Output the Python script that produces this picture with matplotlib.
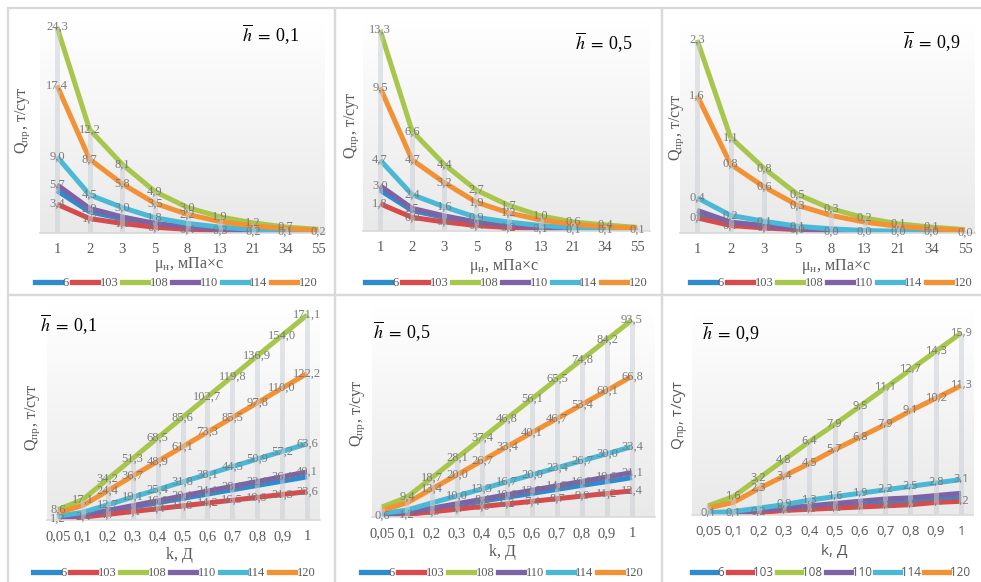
import numpy as np
import matplotlib
matplotlib.use("Agg")
import matplotlib.pyplot as plt
from matplotlib.patches import Rectangle
from matplotlib.lines import Line2D
from matplotlib.colors import LinearSegmentedColormap

plt.rcParams['mathtext.fontset'] = 'stix'

# ---------------- data ----------------
series_names = ["6", "103", "108", "110", "114", "120"]
mu_labels = ["1", "2", "3", "5", "8", "13", "21", "34", "55"]
k_labels = ["0,05", "0,1", "0,2", "0,3", "0,4", "0,5", "0,6", "0,7", "0,8", "0,9", "1"]

# Q vs viscosity, h = 0.1
mu_h01 = {
    "6":   [5.0, 2.5, 1.67, 1.0, 0.63, 0.38, 0.24, 0.15, 0.09],
    "103": [3.4, 1.7, 1.13, 0.68, 0.43, 0.26, 0.16, 0.10, 0.06],
    "108": [24.3, 12.2, 8.1, 4.9, 3.0, 1.9, 1.2, 0.7, 0.44],
    "110": [5.7, 2.9, 1.9, 1.14, 0.71, 0.44, 0.27, 0.17, 0.10],
    "114": [9.0, 4.5, 3.0, 1.8, 1.13, 0.69, 0.43, 0.26, 0.16],
    "120": [17.4, 8.7, 5.8, 3.5, 2.2, 1.34, 0.83, 0.51, 0.32],
}
# Q vs viscosity, h = 0.5
mu_h05 = {
    "6":   [2.7, 1.35, 0.9, 0.54, 0.34, 0.21, 0.13, 0.08, 0.05],
    "103": [1.8, 0.9, 0.6, 0.36, 0.23, 0.14, 0.09, 0.06, 0.03],
    "108": [13.3, 6.6, 4.4, 2.7, 1.7, 1.0, 0.6, 0.4, 0.24],
    "110": [3.0, 1.5, 1.0, 0.6, 0.38, 0.23, 0.14, 0.09, 0.05],
    "114": [4.7, 2.4, 1.6, 0.9, 0.59, 0.36, 0.22, 0.14, 0.09],
    "120": [9.5, 4.7, 3.2, 1.9, 1.2, 0.73, 0.45, 0.28, 0.17],
}
# Q vs viscosity, h = 0.9
mu_h09 = {
    "6":   [0.23, 0.11, 0.08, 0.05, 0.03, 0.02, 0.01, 0.01, 0.00],
    "103": [0.18, 0.09, 0.06, 0.04, 0.02, 0.01, 0.01, 0.01, 0.00],
    "108": [2.3, 1.14, 0.77, 0.46, 0.29, 0.18, 0.11, 0.07, 0.04],
    "110": [0.27, 0.13, 0.09, 0.05, 0.03, 0.02, 0.01, 0.01, 0.00],
    "114": [0.42, 0.21, 0.14, 0.08, 0.05, 0.03, 0.02, 0.01, 0.01],
    "120": [1.64, 0.82, 0.55, 0.33, 0.21, 0.13, 0.08, 0.05, 0.03],
}
# Q vs permeability, h = 0.1
k_h01 = {
    "6":   [1.8, 3.6, 7.2, 10.8, 14.4, 18.0, 21.6, 25.2, 28.8, 32.4, 36.0],
    "103": [1.2, 2.4, 4.7, 7.1, 9.4, 11.8, 14.2, 16.5, 18.9, 21.3, 23.6],
    "108": [8.6, 17.1, 34.2, 51.3, 68.5, 85.6, 102.7, 119.8, 136.9, 154.0, 171.1],
    "110": [2.0, 4.0, 8.0, 12.0, 16.0, 20.1, 24.1, 28.1, 32.1, 36.1, 40.1],
    "114": [3.2, 6.4, 12.7, 19.1, 25.4, 31.8, 38.1, 44.5, 50.9, 57.2, 63.6],
    "120": [6.1, 12.2, 24.4, 36.7, 48.9, 61.1, 73.3, 85.5, 97.8, 110.0, 122.2],
}
# Q vs permeability, h = 0.5
k_h05 = {
    "6":   [0.9, 1.9, 3.7, 5.6, 7.5, 9.4, 11.2, 13.1, 15.0, 16.8, 18.7],
    "103": [0.6, 1.2, 2.5, 3.7, 5.0, 6.2, 7.4, 8.7, 9.9, 11.2, 12.4],
    "108": [4.7, 9.4, 18.7, 28.1, 37.4, 46.8, 56.1, 65.5, 74.8, 84.2, 93.5],
    "110": [1.1, 2.1, 4.2, 6.3, 8.4, 10.6, 12.7, 14.8, 16.9, 19.0, 21.1],
    "114": [1.7, 3.3, 6.7, 10.0, 13.3, 16.7, 20.0, 23.4, 26.7, 30.0, 33.4],
    "120": [3.3, 6.7, 13.4, 20.0, 26.7, 33.4, 40.1, 46.7, 53.4, 60.1, 66.8],
}
# Q vs permeability, h = 0.9
k_h09 = {
    "6":   [0.1, 0.2, 0.3, 0.5, 0.6, 0.8, 1.0, 1.1, 1.3, 1.4, 1.6],
    "103": [0.1, 0.1, 0.2, 0.4, 0.5, 0.6, 0.7, 0.8, 0.9, 1.1, 1.2],
    "108": [0.8, 1.6, 3.2, 4.8, 6.4, 7.9, 9.5, 11.1, 12.7, 14.3, 15.9],
    "110": [0.1, 0.2, 0.4, 0.6, 0.8, 1.0, 1.2, 1.4, 1.5, 1.7, 1.9],
    "114": [0.2, 0.3, 0.6, 0.9, 1.3, 1.6, 1.9, 2.2, 2.5, 2.8, 3.1],
    "120": [0.6, 1.1, 2.3, 3.4, 4.5, 5.7, 6.8, 7.9, 9.1, 10.2, 11.3],
}

# which points carry a data label (series -> point indices)
lab_mu_h01 = {"108": range(0, 8), "120": range(0, 5), "114": [0, 1, 2, 3, 8],
              "110": [0, 1], "103": range(0, 8)}
lab_mu_h05 = {"108": range(0, 8), "120": range(0, 5), "114": [0, 1, 2, 3, 8],
              "110": [0, 1], "103": range(0, 8)}
lab_mu_h09 = {"108": range(0, 8), "120": range(0, 4), "114": range(0, 4),
              "103": range(0, 9)}
lab_k_h01 = {"108": range(0, 11), "120": range(2, 11), "114": range(2, 11),
             "110": range(4, 11), "103": range(0, 11)}
lab_k_h05 = {"108": range(1, 11), "120": range(2, 11), "114": range(3, 11),
             "110": range(4, 11), "103": range(0, 11)}
lab_k_h09 = {"108": range(1, 11), "120": range(2, 11), "114": range(3, 11),
             "103": range(0, 11)}

h_values = ["0,1", "0,5", "0,9", "0,1", "0,5", "0,9"]

colors = {"6": "#2E8BCF", "103": "#D94A4C", "108": "#A8C64B",
          "110": "#7D62A6", "114": "#4BB8D6", "120": "#F39135"}

# ---------------- layout ----------------
W, H = 981, 582
fig = plt.figure(figsize=(W / 100, H / 100), dpi=100)
fig.patch.set_facecolor("white")

SERIF = ["Liberation Serif", "DejaVu Serif"]
SANS = ["Open Sans", "DejaVu Sans"]
GRAY = "#595959"
LGRAY = "#7a7a7a"

panels = [
    dict(data=mu_h01, labs=lab_mu_h01, cats=mu_labels, box=(40, 325, 21.1, 233), ylim=25,
         xlim=(-0.52, 8.21), xlabel="μ$_\\mathregular{н}$, мПа×с", xl=(189, 265),
         yl=(23, 120), h=(242, 35), leg=(176, 283), fam=SERIF),
    dict(data=mu_h05, labs=lab_mu_h05, cats=mu_labels, box=(363, 650, 19.4, 231), ylim=14,
         xlim=(-0.53, 8.4), xlabel="μ$_\\mathregular{н}$, мПа×с", xl=(504, 267),
         yl=(352, 125), h=(575, 43), leg=(506, 283), fam=SERIF),
    dict(data=mu_h09, labs=lab_mu_h09, cats=mu_labels, box=(680, 975, 23.2, 233), ylim=2.5,
         xlim=(-0.51, 8.3), xlabel="μ$_\\mathregular{н}$, мПа×с", xl=(836, 267),
         yl=(677, 127), h=(903, 42), leg=(831, 283), fam=SERIF),
    dict(data=k_h01, labs=lab_k_h01, cats=k_labels, box=(47, 320, 304.3, 520), ylim=180,
         xlim=(-0.44, 10.52), xlabel="k, Д", xl=(179, 555),
         yl=(33, 417), h=(40, 325), leg=(174, 573), fam=SERIF),
    dict(data=k_h05, labs=lab_k_h05, cats=k_labels, box=(372, 655, 306.3, 517), ylim=100,
         xlim=(-0.4, 10.92), xlabel="k, Д", xl=(502, 552),
         yl=(358, 413), h=(373, 332), leg=(502, 573), fam=SERIF),
    dict(data=k_h09, labs=lab_k_h09, cats=k_labels, box=(692, 973, 309, 515), ylim=18,
         xlim=(-0.63, 10.47), xlabel="k, Д", xl=(834, 552),
         yl=(680, 415), h=(702, 333), leg=(831, 573), fam=SANS),
]

# panel frames
for (x0, x1, y0, y1) in [(8, 335, 8, 295), (335, 662, 8, 295), (662, 995, 8, 295),
                         (8, 335, 295, 595), (335, 662, 295, 595), (662, 995, 295, 595)]:
    fig.add_artist(Rectangle((x0 / W, 1 - y1 / H), (x1 - x0) / W, (y1 - y0) / H,
                             transform=fig.transFigure, fill=False,
                             ec="#d9d9d9", lw=1.6, zorder=0))

grad = np.linspace(0, 1, 256).reshape(-1, 1)
gcmap = LinearSegmentedColormap.from_list("g", ["#ffffff", "#e9e9e9"])

for i, p in enumerate(panels):
    x0, x1, yt, yb = p["box"]
    ax = fig.add_axes([x0 / W, 1 - yb / H, (x1 - x0) / W, (yb - yt) / H])
    ax.set_facecolor("none")
    ax.imshow(grad, extent=[0, 1, 0, 1], transform=ax.transAxes, aspect="auto",
              cmap=gcmap, zorder=0)
    n = len(p["cats"])
    xs = np.arange(n)
    data = p["data"]
    for name in series_names:
        ax.plot(xs, data[name], color=colors[name], lw=3.6, solid_capstyle="butt",
                solid_joinstyle="round", zorder=2)
    tops = np.max(np.array([data[s] for s in series_names]), axis=0)
    ax.vlines(xs, 0, tops, color="#c9ced3", lw=3.6, alpha=0.5, zorder=3)
    sans = p["fam"] is SANS
    for name, idxs in p["labs"].items():
        for j in idxs:
            v = data[name][j]
            ax.text(xs[j], v, f"{v:.1f}".replace(".", ","), ha="center", va="center",
                    fontsize=8 if sans else 9, color=LGRAY, family=p["fam"], zorder=5)
    ax.set_xlim(*p["xlim"])
    ax.set_ylim(0, p["ylim"])
    ax.set_xticks(xs)
    ax.set_xticklabels(p["cats"], family=p["fam"], fontsize=9.5 if sans else 10.5,
                       color=GRAY)
    ax.tick_params(axis="x", length=0, pad=7)
    ax.set_yticks([])
    for s in ["top", "right", "left"]:
        ax.spines[s].set_visible(False)
    ax.spines["bottom"].set_color("#d9d9d9")
    ax.spines["bottom"].set_linewidth(1.2)
    ax.spines["bottom"].set_zorder(4)

    fig.text(p["xl"][0] / W, 1 - p["xl"][1] / H, p["xlabel"], ha="center", va="center",
             fontsize=11.5 if not sans else 11, color=GRAY, family=p["fam"])
    fig.text(p["yl"][0] / W, 1 - p["yl"][1] / H, "Q$_\\mathregular{пр}$, т/сут",
             ha="center", va="center", rotation=90, fontsize=11.5 if not sans else 11,
             color=GRAY, family=p["fam"])
    fig.text(p["h"][0] / W, 1 - p["h"][1] / H,
             "$\\overline{h}\\;=\\;$" + h_values[i], ha="left", va="center",
             fontsize=13, color="black", family=["Liberation Serif"])

    handles = [Line2D([0], [0], color=colors[s], lw=3.8) for s in series_names]
    leg = ax.legend(handles, series_names, loc="center",
                    bbox_to_anchor=(p["leg"][0] / W, 1 - p["leg"][1] / H),
                    bbox_transform=fig.transFigure, ncol=6, frameon=False,
                    handlelength=2.1, handletextpad=0.1, columnspacing=0.3,
                    borderaxespad=0, borderpad=0,
                    prop={"family": p["fam"], "size": 9 if not sans else 8.4})
    for t in leg.get_texts():
        t.set_color(GRAY)

fig.savefig("out.png", dpi=100, facecolor="white")
